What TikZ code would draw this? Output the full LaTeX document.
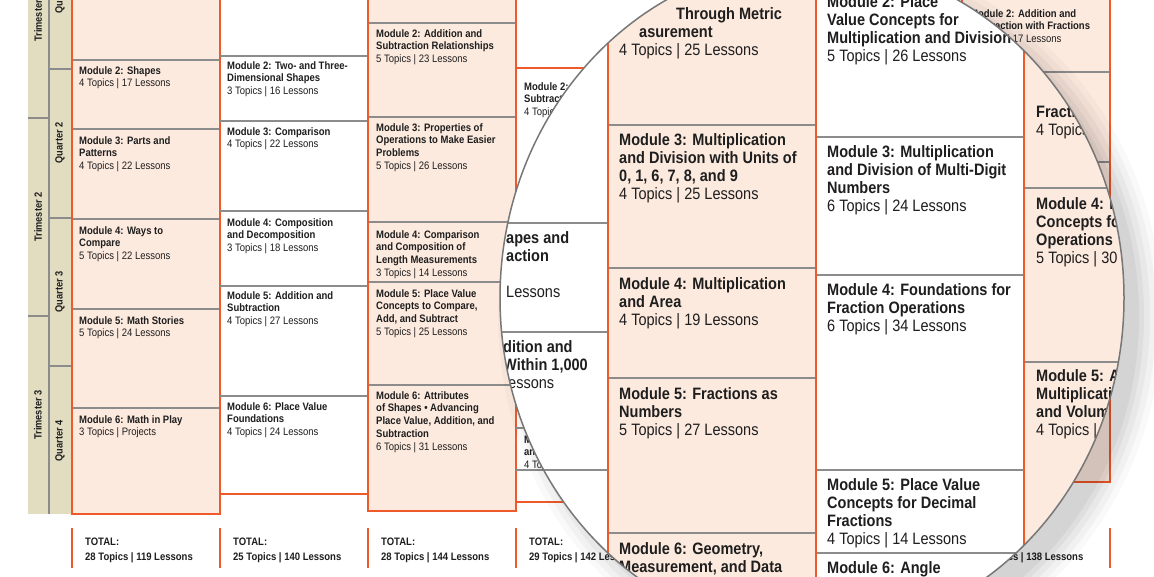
\documentclass[tikz,border=0pt]{standalone}
\usepackage{fontspec}
\setmainfont{Liberation Sans}[FakeStretch=0.88]
\begin{document}
\begin{tikzpicture}[x=1pt,y=-1pt,
  sm/.style={anchor=north west,inner sep=0pt,align=left,yshift=4pt,text=txt,font=\fontsize{10.8}{12.8}\selectfont},
  bg/.style={anchor=north west,inner sep=0pt,align=left,yshift=6pt,text=txt,font=\fontsize{16.5}{18}\selectfont},
  lab/.style={rotate=90,inner sep=0pt,text=txt,font=\bfseries\fontsize{10.5}{12}\selectfont},
  sep/.style={draw=sepc,line width=1.5pt},
  bsep/.style={draw=sepc,line width=2.5pt},
  ob/.style={draw=orng,line width=1.5pt},
  bob/.style={draw=orng,line width=2.5pt}]
\definecolor{peach}{HTML}{FDEADF}
\definecolor{orng}{HTML}{EF5A2A}
\definecolor{sepc}{HTML}{8C8C8C}
\definecolor{tan}{HTML}{E2DCC1}
\definecolor{txt}{HTML}{1E1E1E}
\useasboundingbox (0,0) rectangle (1154,576);
\fill[white] (0,0) rectangle (1154,576);
% side bands
\fill[tan] (28,-5) rectangle (48,514);
\fill[tan] (50,-5) rectangle (71,514);
\draw[sep] (49,-5) -- (49,514);
\foreach \y in {118,316} \draw[sep] (28,\y) -- (48,\y);
\foreach \y in {69,218,366} \draw[sep] (50,\y) -- (71,\y);
\node[lab] (t1) at (38,17) {Trimester 1};
\node[lab] (t2) at (38,217) {Trimester 2};
\node[lab] (t3) at (38,415) {Trimester 3};
\node[lab] (q1) at (60,-7) {Quarter 1};
\node[lab] (q2) at (60,143) {Quarter 2};
\node[lab] (q3) at (60,292) {Quarter 3};
\node[lab] (q4) at (60,441) {Quarter 4};
% column K
\fill[peach] (72,-5) rectangle (220,514);
\foreach \y in {60,129,219,309,408} \draw[sep] (72,\y) -- (220,\y);
\draw[ob] (72,-5) -- (72,514) -- (220,514) -- (220,-5);
\node[sm] (k2) at (79,70) {\textbf{Module 2: Shapes}\\4 Topics | 17 Lessons};
\node[sm] (k3) at (79,140) {\textbf{Module 3: Parts and}\\\textbf{Patterns}\\4 Topics | 22 Lessons};
\node[sm] (k4) at (79,230) {\textbf{Module 4: Ways to}\\\textbf{Compare}\\5 Topics | 22 Lessons};
\node[sm] (k5) at (79,320) {\textbf{Module 5: Math Stories}\\5 Topics | 24 Lessons};
\node[sm] (k6) at (79,419) {\textbf{Module 6: Math in Play}\\3 Topics | Projects};
% column 1
\foreach \y in {56,121,211,286,396} \draw[sep] (220,\y) -- (368,\y);
\draw[ob] (220,494) -- (368,494) -- (368,-5);
\node[sm] (a2) at (227,65) {\textbf{Module 2: Two- and Three-}\\\textbf{Dimensional Shapes}\\3 Topics | 16 Lessons};
\node[sm] (a3) at (227,131) {\textbf{Module 3: Comparison}\\4 Topics | 22 Lessons};
\node[sm] (a4) at (227,222) {\textbf{Module 4: Composition}\\\textbf{and Decomposition}\\3 Topics | 18 Lessons};
\node[sm] (a5) at (227,295) {\textbf{Module 5: Addition and}\\\textbf{Subtraction}\\4 Topics | 27 Lessons};
\node[sm] (a6) at (227,406) {\textbf{Module 6: Place Value}\\\textbf{Foundations}\\4 Topics | 24 Lessons};
% column 2
\fill[peach] (368,-5) rectangle (516,511);
\foreach \y in {23,117,222,282,385} \draw[sep] (368,\y) -- (516,\y);
\draw[ob] (368,-5) -- (368,511) -- (516,511) -- (516,-5);
\node[sm] (b2) at (376,33) {\textbf{Module 2: Addition and}\\\textbf{Subtraction Relationships}\\5 Topics | 23 Lessons};
\node[sm] (b3) at (376,127) {\textbf{Module 3: Properties of}\\\textbf{Operations to Make Easier}\\\textbf{Problems}\\5 Topics | 26 Lessons};
\node[sm] (b4) at (376,234) {\textbf{Module 4: Comparison}\\\textbf{and Composition of}\\\textbf{Length Measurements}\\3 Topics | 14 Lessons};
\node[sm] (b5) at (376,293) {\textbf{Module 5: Place Value}\\\textbf{Concepts to Compare,}\\\textbf{Add, and Subtract}\\5 Topics | 25 Lessons};
\node[sm] (b6) at (376,395) {\textbf{Module 6: Attributes}\\\textbf{of Shapes • Advancing}\\\textbf{Place Value, Addition, and}\\\textbf{Subtraction}\\6 Topics | 31 Lessons};
% column 3 (background)
\foreach \y in {428,470} \draw[sep] (516,\y) -- (640,\y);
\draw[ob] (516,68) -- (640,68);
\draw[ob] (516,502) -- (640,502);
\node[sm] (c2) at (524,86) {\textbf{Module 2: Addition and}\\\textbf{Subtraction Within 1,000}\\4 Topics | 24 Lessons};
\node[sm] (c6) at (524,439) {\textbf{Module 6: Measurement}\\\textbf{and Data}\\4 Topics | 20 Lessons};
% column 5 (background)
\fill[peach] (962,-5) rectangle (1110,482);
\foreach \y in {72,162} \draw[sep] (962,\y) -- (1110,\y);
\draw[ob] (962,-5) -- (962,482) -- (1110,482) -- (1110,-5);
\node[sm] (e2) at (970,13) {\textbf{Module 2: Addition and}\\\textbf{Subtraction with Fractions}\\4 Topics | 17 Lessons};
% totals
\foreach \x in {72,220,368,516,1110} \draw[ob] (\x,528) -- (\x,568);
\foreach \x/\t/\l/\n in {85/28/119/tk,233/25/140/t1x,381/28/144/t2x,529/29/142/t3x,975/26/138/t5x}
  \node[sm,font=\bfseries\fontsize{10.8}{14.5}\selectfont] (\n) at (\x,542) {TOTAL:\\\t\ Topics | \l\ Lessons};
% magnifier shadow
\foreach \s/\o in {26/0.025,20/0.03,14/0.035,8/0.04,3/0.045}
  \fill[black,opacity=\o] (830,316) ellipse ({306+\s} and {331+\s});
\fill[white] (812,298) ellipse (312 and 337);
\begin{scope}
\clip (812,298) ellipse (312 and 337);
\fill[white] (480,-20) rectangle (1160,640);
\foreach \y in {223,332,470} \draw[bsep] (480,\y) -- (608,\y);
\fill[peach] (608,-20) rectangle (816,640);
\foreach \y in {125,268,378,533} \draw[bsep] (608,\y) -- (816,\y);
\foreach \y in {137,275,470,553} \draw[bsep] (816,\y) -- (1024,\y);
\fill[peach] (1024,-20) rectangle (1160,640);
\foreach \y in {188,362} \draw[bsep] (1024,\y) -- (1160,\y);
\foreach \x in {608,816,1024} \draw[bob] (\x,-20) -- (\x,640);
\node[bg] (l1) at (506,237) {\textbf{apes and}\\\textbf{action}\\\\Lessons};
\node[bg] (l2) at (503,346) {\textbf{dition and}\\\textbf{Within 1,000}\\\hspace*{5pt}essons};
\node[bg] (m2) at (619,13) {\hspace*{57pt}\textbf{Through Metric}\\\hspace*{20pt}\textbf{asurement}\\4 Topics | 25 Lessons};
\node[bg] (m3) at (619,139) {\textbf{Module 3: Multiplication}\\\textbf{and Division with Units of}\\\textbf{0, 1, 6, 7, 8, and 9}\\4 Topics | 25 Lessons};
\node[bg] (m4) at (619,283) {\textbf{Module 4: Multiplication}\\\textbf{and Area}\\4 Topics | 19 Lessons};
\node[bg] (m5) at (619,393) {\textbf{Module 5: Fractions as}\\\textbf{Numbers}\\5 Topics | 27 Lessons};
\node[bg] (m6) at (619,548) {\textbf{Module 6: Geometry,}\\\textbf{Measurement, and Data}};
\node[bg] (n2) at (827,1) {\textbf{Module 2: Place}\\\textbf{Value Concepts for}\\\textbf{Multiplication and Division}\\5 Topics | 26 Lessons};
\node[bg] (n3) at (827,151) {\textbf{Module 3: Multiplication}\\\textbf{and Division of Multi-Digit}\\\textbf{Numbers}\\6 Topics | 24 Lessons};
\node[bg] (n4) at (827,289) {\textbf{Module 4: Foundations for}\\\textbf{Fraction Operations}\\6 Topics | 34 Lessons};
\node[bg] (n5) at (827,484) {\textbf{Module 5: Place Value}\\\textbf{Concepts for Decimal}\\\textbf{Fractions}\\4 Topics | 14 Lessons};
\node[bg] (n6) at (827,567) {\textbf{Module 6: Angle}};
\node[bg] (o3) at (1036,111) {\textbf{Fractions}\\4 Topics | 22 Lessons};
\node[bg] (o4) at (1036,203) {\textbf{Module 4: Place Value}\\\textbf{Concepts for Decimal}\\\textbf{Operations}\\5 Topics | 30 Lessons};
\node[bg] (o5) at (1036,375) {\textbf{Module 5: Addition and}\\\textbf{Multiplication with Area}\\\textbf{and Volume}\\4 Topics | 25 Lessons};
\end{scope}
\draw[sepc!85!black,line width=1.5pt] (812,298) ellipse (312 and 337);
\end{tikzpicture}
\end{document}
